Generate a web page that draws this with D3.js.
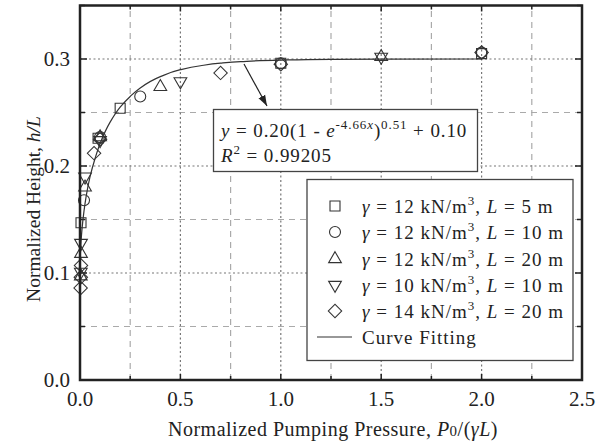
<!DOCTYPE html>
<html>
<head>
<meta charset="utf-8">
<script src="https://cdn.jsdelivr.net/npm/d3@7"></script>
<style>
  body { margin: 0; background: #fff; }
  svg text { font-family: "Liberation Serif", "Times New Roman", serif; fill: #222; }
</style>
</head>
<body>
<div id="chart"></div>
<script>
// data: [P0/(gamma L), h/L]
var sq12L5 = [[0.005, 0.147], [0.09, 0.226], [0.2, 0.254], [1.0, 0.296], [2.0, 0.305]];
var ci12L10 = [[0.02, 0.168], [0.1, 0.227], [0.3, 0.265], [1.0, 0.296], [2.0, 0.306]];
var up12L20 = [[0.004, 0.097], [0.005, 0.118], [0.025, 0.180], [0.1, 0.227], [0.4, 0.274], [1.5, 0.302]];
var dn10L10 = [[0.004, 0.101], [0.005, 0.128], [0.025, 0.190], [0.1, 0.224], [0.5, 0.279], [1.5, 0.302]];
var di14L20 = [[0.003, 0.086], [0.004, 0.096], [0.005, 0.107], [0.07, 0.212], [0.1, 0.225], [0.7, 0.287], [1.0, 0.295], [2.0, 0.306]];

// fitted curve, points
var fitX = [0, 0.001, 0.005, 0.01, 0.02, 0.03, 0.05, 0.075, 0.1, 0.15, 0.2, 0.25, 0.3, 0.4, 0.5, 0.6, 0.7, 0.8, 1.0, 1.25, 1.5, 2.0];
var fitY = [0.100, 0.113, 0.129, 0.141, 0.158, 0.171, 0.190, 0.207, 0.221, 0.241, 0.255, 0.265, 0.273, 0.2835, 0.290, 0.2937, 0.2961, 0.2975, 0.2990, 0.2997, 0.2999, 0.300];

var xTicks = [0, 0.5, 1.0, 1.5, 2.0, 2.5];
var yTicks = [0, 0.1, 0.2, 0.3];
var seriesNames = ["12 kN/m", "12 kN/m", "12 kN/m", "10 kN/m", "14 kN/m"];
var seriesL = ["5 m", "10 m", "20 m", "10 m", "20 m"];

var w = 603, h = 443;
var x = d3.scaleLinear().domain([0, 2.5]).range([80, 582]);
var y = d3.scaleLinear().domain([0, 0.35]).range([380, 5.5]);

var svg = d3.select("#chart").append("svg")
    .attr("width", w).attr("height", h);

// arrow marker
svg.append("defs").append("marker")
    .attr("id", "arr").attr("viewBox", "0 0 10 10")
    .attr("refX", 10).attr("refY", 5)
    .attr("markerWidth", 9).attr("markerHeight", 9)
    .attr("orient", "auto")
    .append("path").attr("d", "M0,1.5 L10,5 L0,8.5 Z").attr("fill", "#222");

// grid: minor dashed, major dotted
var xMinor = d3.range(0.25, 2.5, 0.5);
var yMinor = d3.range(0.05, 0.35, 0.1);
var grid = svg.append("g");
grid.selectAll(".vmin").data(xMinor).enter().append("line")
    .attr("x1", d => x(d)).attr("x2", d => x(d)).attr("y1", y(0)).attr("y2", y(0.35))
    .attr("stroke", "#aaa").attr("stroke-width", 1.2).attr("stroke-dasharray", "6,5");
grid.selectAll(".hmin").data(yMinor).enter().append("line")
    .attr("x1", x(0)).attr("x2", x(2.5)).attr("y1", d => y(d)).attr("y2", d => y(d))
    .attr("stroke", "#aaa").attr("stroke-width", 1.2).attr("stroke-dasharray", "6,5");
grid.selectAll(".vmaj").data(xTicks.slice(1, -1)).enter().append("line")
    .attr("x1", d => x(d)).attr("x2", d => x(d)).attr("y1", y(0)).attr("y2", y(0.35))
    .attr("stroke", "#777").attr("stroke-width", 1.2).attr("stroke-dasharray", "2,2.5");
grid.selectAll(".hmaj").data(yTicks.slice(1)).enter().append("line")
    .attr("x1", x(0)).attr("x2", x(2.5)).attr("y1", d => y(d)).attr("y2", d => y(d))
    .attr("stroke", "#777").attr("stroke-width", 1.2).attr("stroke-dasharray", "2,2.5");

// inward ticks on all four sides
var ticks = svg.append("g").attr("stroke", "#222").attr("stroke-width", 1.5);
d3.range(0, 2.51, 0.25).forEach(function (v) {
    var len = (Math.round(v * 4) % 2 === 0) ? 6 : 4;
    ticks.append("line").attr("x1", x(v)).attr("x2", x(v)).attr("y1", y(0)).attr("y2", y(0) - len);
    ticks.append("line").attr("x1", x(v)).attr("x2", x(v)).attr("y1", y(0.35)).attr("y2", y(0.35) + len);
});
d3.range(0, 0.351, 0.05).forEach(function (v) {
    var len = (Math.round(v * 20) % 2 === 0) ? 7 : 5;
    ticks.append("line").attr("x1", x(0)).attr("x2", x(0) + len).attr("y1", y(v)).attr("y2", y(v));
    ticks.append("line").attr("x1", x(2.5)).attr("x2", x(2.5) - len).attr("y1", y(v)).attr("y2", y(v));
});

// fitted curve
var fitPts = fitX.map((v, i) => [v, fitY[i]]);
svg.append("path").datum(fitPts)
    .attr("d", d3.line().x(d => x(d[0])).y(d => y(d[1])).curve(d3.curveMonotoneY))
    .attr("fill", "none").attr("stroke", "#333").attr("stroke-width", 1.2);

// markers
var symSq = d3.symbol().type(d3.symbolSquare).size(100)();
var symCi = d3.symbol().type(d3.symbolCircle).size(95)();
var symTri = d3.symbol().type(d3.symbolTriangle).size(70)();
var series = [
    { data: sq12L5, d: symSq, rot: 0 },
    { data: ci12L10, d: symCi, rot: 0 },
    { data: up12L20, d: symTri, rot: 0 },
    { data: dn10L10, d: symTri, rot: 180 },
    { data: di14L20, d: symSq, rot: 45, scale: 0.95 }
];
series.forEach(function (s) {
    svg.append("g").selectAll("path").data(s.data).enter().append("path")
        .attr("d", s.d)
        .attr("transform", d => "translate(" + x(d[0]) + "," + y(d[1]) + ") rotate(" + s.rot + ")" + (s.scale ? " scale(" + s.scale + ")" : ""))
        .attr("fill", "none").attr("stroke", "#333").attr("stroke-width", 1.1);
});

// frame
svg.append("rect").attr("x", x(0)).attr("y", y(0.35))
    .attr("width", x(2.5) - x(0)).attr("height", y(0) - y(0.35))
    .attr("fill", "none").attr("stroke", "#222").attr("stroke-width", 2.5);

// tick labels
svg.append("g").selectAll("text").data(xTicks).enter().append("text")
    .attr("x", d => x(d)).attr("y", 406).attr("text-anchor", "middle")
    .attr("font-size", 21).text(d => d.toFixed(1));
svg.append("g").selectAll("text").data(yTicks).enter().append("text")
    .attr("x", 70).attr("y", d => y(d)).attr("dy", "0.35em").attr("text-anchor", "end")
    .attr("font-size", 21).text(d => d.toFixed(1));

// axis titles
var xt = svg.append("text").attr("x", 333).attr("y", 436).attr("text-anchor", "middle")
    .attr("font-size", 20).attr("letter-spacing", 0.5);
xt.append("tspan").text("Normalized Pumping Pressure, ");
xt.append("tspan").attr("font-style", "italic").text("P");
xt.append("tspan").attr("font-size", 15).text("0");
xt.append("tspan").text("/(");
xt.append("tspan").attr("font-style", "italic").text("γL");
xt.append("tspan").text(")");

var yt = svg.append("text").attr("transform", "translate(40,209) rotate(-90)")
    .attr("text-anchor", "middle").attr("font-size", 19.5);
yt.append("tspan").text("Normalized Height, ");
yt.append("tspan").attr("font-style", "italic").text("h/L");

// annotation arrow + equation box
svg.append("line").attr("x1", 244).attr("y1", 64).attr("x2", 267).attr("y2", 106)
    .attr("stroke", "#222").attr("stroke-width", 1.2).attr("marker-end", "url(#arr)");
svg.append("rect").attr("x", 213.5).attr("y", 109.5).attr("width", 264).attr("height", 62)
    .attr("fill", "#fff").attr("stroke", "#444").attr("stroke-width", 1.3);
var eq = svg.append("text").attr("x", 221).attr("y", 137).attr("font-size", 19).attr("letter-spacing", 0.9);
eq.append("tspan").attr("font-style", "italic").text("y");
eq.append("tspan").text(" = 0.20(1 - ");
eq.append("tspan").attr("font-style", "italic").text("e");
eq.append("tspan").attr("font-size", 13).attr("dy", -8).text("-4.66");
eq.append("tspan").attr("font-size", 13).attr("font-style", "italic").text("x");
eq.append("tspan").attr("dy", 8).text(")");
eq.append("tspan").attr("font-size", 13).attr("dy", -8).text("0.51");
eq.append("tspan").attr("dy", 8).text(" + 0.10");
var r2 = svg.append("text").attr("x", 221).attr("y", 162).attr("font-size", 19).attr("letter-spacing", 0.9);
r2.append("tspan").attr("font-style", "italic").text("R");
r2.append("tspan").attr("font-size", 13).attr("dy", -8).text("2");
r2.append("tspan").attr("dy", 8).text(" = 0.99205");

// legend
svg.append("rect").attr("x", 307).attr("y", 179.5).attr("width", 266).attr("height", 181)
    .attr("fill", "#fff").attr("stroke", "#444").attr("stroke-width", 1.3);
var legY = [206, 232, 259, 285, 311, 337];
series.forEach(function (s, i) {
    svg.append("path").attr("d", s.d)
        .attr("transform", "translate(335," + legY[i] + ") rotate(" + s.rot + ")" + (s.scale ? " scale(" + s.scale + ")" : ""))
        .attr("fill", "none").attr("stroke", "#333").attr("stroke-width", 1.1);
    var t = svg.append("text").attr("x", 362).attr("y", legY[i]).attr("dy", "0.35em")
        .attr("font-size", 19).attr("letter-spacing", 1);
    t.append("tspan").attr("font-style", "italic").text("γ");
    t.append("tspan").text(" = " + seriesNames[i]);
    t.append("tspan").attr("font-size", 13).attr("dy", -8).text("3");
    t.append("tspan").attr("dy", 8).text(", ");
    t.append("tspan").attr("font-style", "italic").text("L");
    t.append("tspan").text(" = " + seriesL[i]);
});
svg.append("line").attr("x1", 317).attr("x2", 352).attr("y1", legY[5]).attr("y2", legY[5])
    .attr("stroke", "#333").attr("stroke-width", 1.2);
svg.append("text").attr("x", 362).attr("y", legY[5]).attr("dy", "0.35em")
    .attr("font-size", 19).attr("letter-spacing", 1).text("Curve Fitting");
</script>
</body>
</html>
